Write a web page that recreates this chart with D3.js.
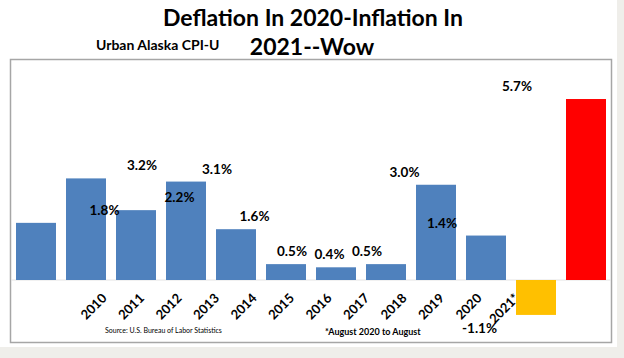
<!DOCTYPE html>
<html><head><meta charset="utf-8">
<script src="https://cdn.jsdelivr.net/npm/d3@7"></script>
<style>
html,body{margin:0;padding:0;background:#fff;}
svg{display:block;font-family:Lato,"Open Sans",sans-serif;}
</style></head>
<body>
<svg id="c" width="624" height="358"></svg>
<script>
const categories = ["2009","2010","2011","2012","2013","2014","2015","2016","2017","2018","2019","2020"];
const tickLabels = ["2010","2011","2012","2013","2014","2015","2016","2017","2018","2019","2020","2021*"];
const values = [1.8, 3.2, 2.2, 3.1, 1.6, 0.5, 0.4, 0.5, 3.0, 1.4, -1.1, 5.7];
const valueLabels = ["1.8%","3.2%","2.2%","3.1%","1.6%","0.5%","0.4%","0.5%","3.0%","1.4%","-1.1%","5.7%"];
const barColors = ["#4f81bd","#4f81bd","#4f81bd","#4f81bd","#4f81bd","#4f81bd","#4f81bd","#4f81bd","#4f81bd","#4f81bd","#ffc000","#ff0000"];

const svg = d3.select("#c");
svg.append("rect").attr("x",0).attr("y",0).attr("width",624).attr("height",358).attr("fill","#fff");
svg.append("rect").attr("x",617).attr("y",0).attr("width",7).attr("height",358).attr("fill","#efeeea");
svg.append("rect").attr("x",0).attr("y",347).attr("width",624).attr("height",11).attr("fill","#efeeea");
svg.append("rect").attr("x",10.5).attr("y",59.5).attr("width",601).attr("height",283)
  .attr("fill","#fff").attr("stroke","#a6a6a6").attr("stroke-width",1.5);

const x = d3.scaleBand().domain(categories).range([11,611]).paddingInner(0.2).paddingOuter(0.1);
const y = d3.scaleLinear().domain([-2,7]).range([343.5,57.75]);
const xl = d3.scaleBand().domain(tickLabels).range([85.75,535.75]);

svg.append("line").attr("x1",11).attr("x2",611).attr("y1",y(0)).attr("y2",y(0))
  .attr("stroke","#e4e4e4").attr("stroke-width",1);

svg.append("g").selectAll("rect").data(values).join("rect")
  .attr("x",(d,i)=>x(categories[i]))
  .attr("width",x.bandwidth())
  .attr("y",d=>y(Math.max(0,d)))
  .attr("height",d=>Math.abs(y(d)-y(0)))
  .attr("fill",(d,i)=>barColors[i]);

const ax = svg.append("g").attr("transform",`translate(0,${y(0)})`)
  .call(d3.axisBottom(xl).tickSize(0));
ax.select(".domain").remove();
ax.selectAll("text")
  .attr("x",0).attr("y",0).attr("dy",0)
  .attr("text-anchor","end")
  .attr("transform","translate(3,19) rotate(-45)")
  .attr("font-family","Lato, sans-serif").attr("font-weight","bold")
  .attr("font-size",13).attr("fill","#000");

svg.append("g").selectAll("text").data(values).join("text")
  .attr("x",(d,i)=>xl(tickLabels[i])+xl.bandwidth()/2)
  .attr("y",d=> d>=0 ? y(d)-8 : y(d)+18)
  .attr("text-anchor","middle")
  .attr("font-weight","bold").attr("font-size",13.5).attr("fill","#000")
  .text((d,i)=>valueLabels[i]);

svg.append("text").attr("x",313).attr("y",26).attr("text-anchor","middle")
  .attr("font-weight","bold").attr("font-size",23).attr("fill","#000")
  .text("Deflation In 2020-Inflation In");
svg.append("text").attr("x",312).attr("y",55).attr("text-anchor","middle")
  .attr("font-weight","bold").attr("font-size",23).attr("fill","#000")
  .text("2021--Wow");
svg.append("text").attr("x",96).attr("y",50)
  .attr("font-weight","bold").attr("font-size",14).attr("fill","#000")
  .text("Urban Alaska CPI-U");
svg.append("text").attr("x",105).attr("y",333)
  .attr("font-size",7).attr("fill","#000")
  .text("Source: U.S. Bureau of Labor Statistics");
svg.append("text").attr("x",325).attr("y",335)
  .attr("font-weight","bold").attr("font-size",9).attr("fill","#000")
  .text("*August 2020 to August");
</script>
</body></html>
